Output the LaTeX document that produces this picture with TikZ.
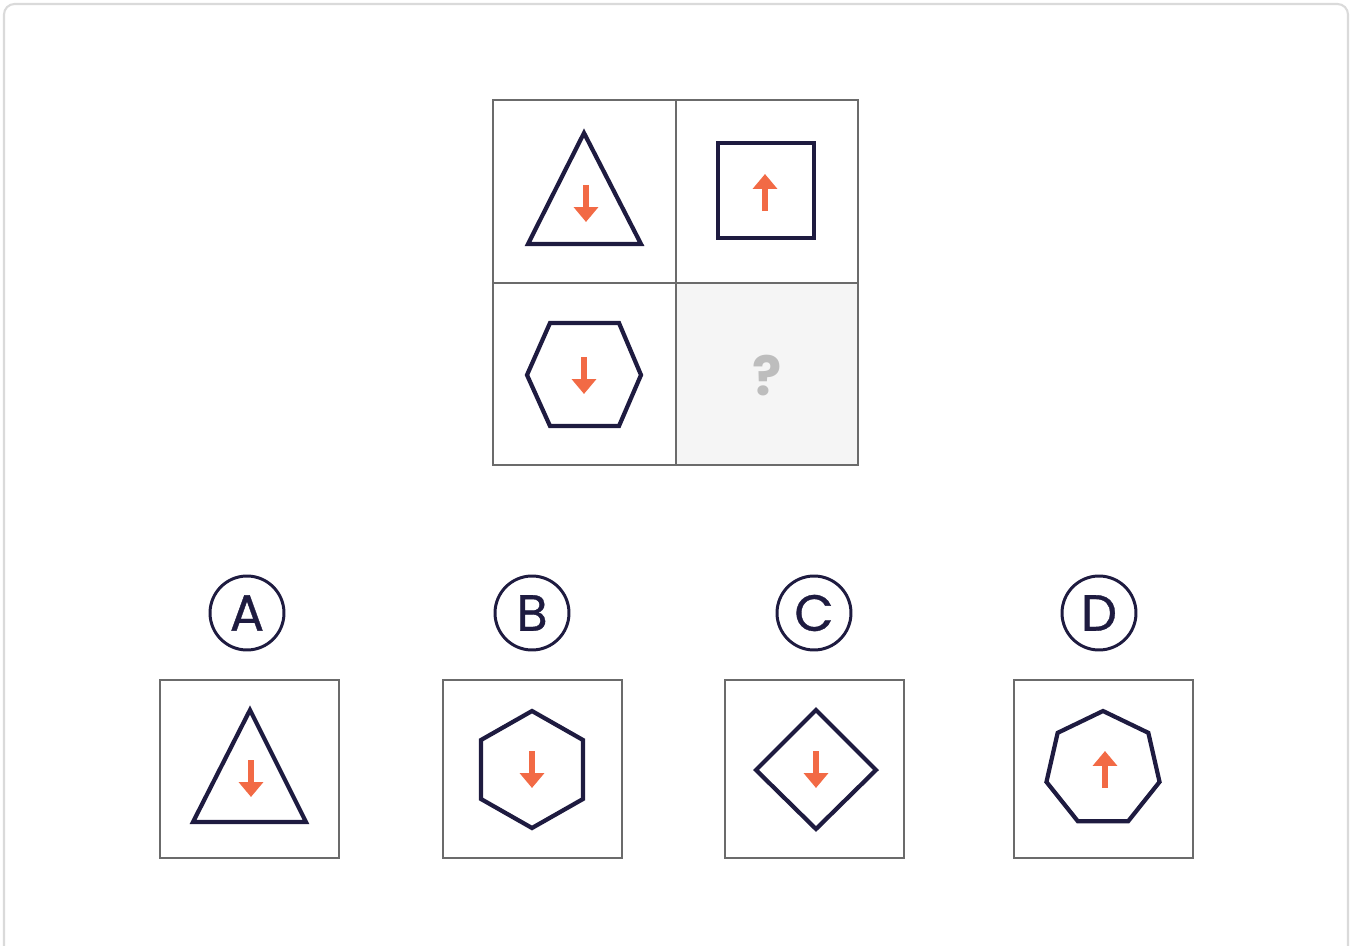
\documentclass[tikz,border=0pt]{standalone}
\usepackage{fontspec}
\setsansfont{Poppins}
\newfontfamily\tagfont{Poppins}[FakeBold=0.7]
\usetikzlibrary{arrows.meta}
\definecolor{navy}{HTML}{1E1B40}
\definecolor{tang}{HTML}{F26A45}
\definecolor{gridline}{HTML}{6B6B6B}
\definecolor{qgray}{HTML}{BDBDBD}
\definecolor{cellfill}{HTML}{F5F5F5}
\definecolor{pageline}{HTML}{DADADA}

\begin{document}
\begin{tikzpicture}[x=0.02cm,y=-0.02cm,
  figure/.style={draw=navy,line width=2.4pt,line join=miter},
  pointer/.style={-{Triangle[width=13.6pt,length=8.5pt]},draw=tang,line width=3.6pt},
  cellline/.style={draw=gridline,line width=0.9pt},
  tag/.style={circle,draw=navy,line width=1.7pt,minimum size=1.48cm,inner sep=0pt,
    text=navy,font=\tagfont\fontsize{29}{29}\selectfont}]
\useasboundingbox (0,0) rectangle (1353,946);
\draw[pageline,line width=1.2pt,rounded corners=6pt] (4,946) -- (4,4) -- (1348,4) -- (1348,946);
% puzzle grid
\fill[cellfill] (676,283) rectangle (858,465);
\draw[cellline] (493,100) rectangle (858,465);
\draw[cellline] (676,100) -- (676,465) (493,283) -- (858,283);
\node[text=qgray,font=\sffamily\bfseries\fontsize{31}{31}\selectfont] (qmark) at (767,376) {?};
\draw[figure] (584,133) -- (641,244) -- (528,244) -- cycle;
\draw[figure] (718,143) rectangle (814,238);
\draw[figure] (550,323) -- (619,323) -- (641,375) -- (619,426) -- (550,426) -- (527,375) -- cycle;
% answer options
\foreach \x/\l in {247/A,532/B,814/C,1099/D} \node[tag] (tag\l) at (\x,613) {\l};
\foreach \x in {160,443,725,1014} \draw[cellline] (\x,680) rectangle ++(179,178);
\draw[figure] (250,710) -- (306,822) -- (193,822) -- cycle;
\draw[figure] (532,711) -- (583,740) -- (583,799) -- (532,828) -- (481,799) -- (481,740) -- cycle;
\draw[figure] (816,710) -- (876,770) -- (816,829) -- (756,770) -- cycle;
\draw[figure,shift={(1103,769)}] (-90:58) \foreach \k in {1,...,6} {-- (-90+\k*360/7:58)} -- cycle;
% arrows
\foreach \x/\y in {586/185,584/357,251/760,532/751,816/751} \draw[pointer] (\x,\y) -- (\x,\y+37);
\foreach \x/\y in {765/211,1105/788} \draw[pointer] (\x,\y) -- (\x,\y-37);
\end{tikzpicture}
\end{document}
